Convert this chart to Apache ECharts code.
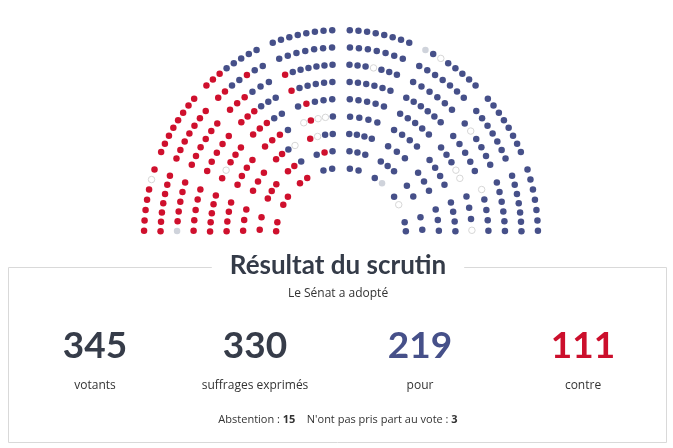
<!DOCTYPE html>
<html>
<head>
<meta charset="utf-8">
<script src="https://cdn.jsdelivr.net/npm/echarts@6.0.0/dist/echarts.min.js"></script>
<style>
html, body { margin: 0; padding: 0; background: #fff; }
#chart { width: 673px; height: 448px; }
</style>
</head>
<body>
<div id="chart"></div>
<script>
// vote result
var groupKeys = ['P', 'C', 'A', 'N'];
var groupNames = ['Pour', 'Contre', 'Abstention', "N'ont pas pris part au vote"];
var groupCounts = [219, 111, 15, 3];

// seat plan, one entry per row (inner to outer), left to right as [group, count] runs
var row0 = [['C', 6], ['P', 5], ['N', 1], ['P', 1], ['A', 1], ['P', 2]];
var row1 = [['C', 7], ['P', 2], ['C', 1], ['P', 11]];
var row2 = [['C', 8], ['P', 1], ['A', 1], ['C', 1], ['A', 1], ['P', 15]];
var row3 = [['C', 11], ['P', 1], ['A', 1], ['C', 1], ['A', 1], ['A', 1], ['P', 17]];
var row4 = [['C', 6], ['A', 1], ['C', 6], ['P', 3], ['C', 1], ['P', 16], ['A', 1], ['A', 1], ['P', 3], ['A', 1]];
var row5 = [['C', 13], ['P', 3], ['C', 1], ['P', 22], ['A', 1], ['P', 4]];
var row6 = [['N', 1], ['C', 14], ['P', 3], ['C', 1], ['P', 9], ['A', 1], ['P', 10], ['A', 1], ['P', 10]];
var row7 = [['C', 16], ['P', 2], ['C', 1], ['P', 37]];
var row8 = [['C', 5], ['A', 1], ['C', 12], ['P', 21], ['N', 1], ['P', 1], ['A', 1], ['P', 20]];
var seatRows = [row0, row1, row2, row3, row4, row5, row6, row7, row8];

// summary under the hemicycle
var summaryValues = [345, 330, 219, 111];
var summaryLabels = ['votants', 'suffrages exprimés', 'pour', 'contre'];

// styles
var seatColors = { P: '#465089', C: '#cf102d', A: '#ffffff', N: '#cfd3db' };
var numberColors = ['#363c49', '#363c49', '#465089', '#cc0f2c'];
var columnX = [95, 255, 420, 583];

// hemicycle layout: rows from R_IN to R_OUT, 8 sectors split by aisles
var R_IN = 0.33, R_OUT = 1, SECTORS = 8, GAP = 0.045;

var seatData = { P: [], C: [], A: [], N: [] };
var nRows = seatRows.length;
var extraOrder = [3, 4, 2, 5, 1, 6, 0, 7];

seatRows.forEach(function (runs, ri) {
    var r = R_IN + (R_OUT - R_IN) * ri / (nRows - 1);
    var groups = [];
    runs.forEach(function (run) {
        for (var i = 0; i < run[1]; i++) groups.push(run[0]);
    });
    var n = groups.length;
    var gapAng = GAP / r;
    var secAng = (Math.PI - (SECTORS - 1) * gapAng) / SECTORS;
    var base = Math.floor(n / SECTORS), extra = n - base * SECTORS;
    var k = 0;
    for (var s = 0; s < SECTORS; s++) {
        var m = base + (extraOrder.indexOf(s) < extra ? 1 : 0);
        var a0 = Math.PI - s * (secAng + gapAng);
        for (var j = 0; j < m; j++) {
            var ang = a0 - (j + 0.5) * secAng / m;
            seatData[groups[k++]].push([r * Math.cos(ang), r * Math.sin(ang)]);
        }
    }
});

var series = groupKeys.map(function (key, i) {
    var empty = key === 'A';
    return {
        name: groupNames[i],
        type: 'scatter',
        data: seatData[key],
        symbolSize: 6.5,
        silent: true,
        itemStyle: {
            color: seatColors[key],
            borderColor: empty ? '#d6d6d6' : seatColors[key],
            borderWidth: empty ? 1 : 0,
            opacity: 1
        }
    };
});

var graphics = [
    {
        type: 'rect',
        shape: { x: 8.5, y: 267.5, width: 658, height: 175 },
        style: { fill: 'none', stroke: '#d9d9d9', lineWidth: 1 }
    },
    {
        type: 'text', x: 338, y: 266,
        style: {
            text: 'Résultat du scrutin', align: 'center', verticalAlign: 'middle',
            font: 'bold 26px Lato', fill: '#343b48',
            backgroundColor: '#fff', padding: [2, 18]
        }
    },
    {
        type: 'text', x: 338, y: 294,
        style: {
            text: 'Le Sénat a adopté', align: 'center', verticalAlign: 'middle',
            font: '12px "Open Sans"', fill: '#333'
        }
    },
    {
        type: 'text', x: 338, y: 420,
        style: {
            text: 'Abstention : {b|' + groupCounts[2] + '}    N\'ont pas pris part au vote : {b|' + groupCounts[3] + '}',
            align: 'center', verticalAlign: 'middle',
            font: '11px "Open Sans"', fill: '#333',
            rich: { b: { fontWeight: 'bold', fontSize: 11, fontFamily: 'Open Sans', fill: '#333' } }
        }
    }
];
summaryValues.forEach(function (v, i) {
    graphics.push({
        type: 'text', x: columnX[i], y: 346,
        style: {
            text: String(v), align: 'center', verticalAlign: 'middle',
            font: 'bold 37px Lato', fill: numberColors[i]
        }
    });
    graphics.push({
        type: 'text', x: columnX[i], y: 386,
        style: {
            text: summaryLabels[i], align: 'center', verticalAlign: 'middle',
            font: '12px "Open Sans"', fill: '#333'
        }
    });
});

var chart = echarts.init(document.getElementById('chart'));
chart.setOption({
    animation: false,
    grid: { left: 124.3, width: 433.4, top: 9.4, height: 247.2 },
    xAxis: { type: 'value', min: -1.1, max: 1.1, show: false },
    yAxis: { type: 'value', min: -0.1, max: 1.1, show: false },
    series: series,
    graphic: graphics
});
</script>
</body>
</html>
